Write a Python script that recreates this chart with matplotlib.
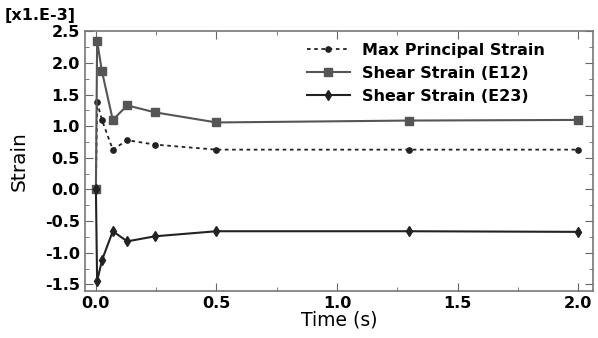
import matplotlib
matplotlib.use("Agg")
import matplotlib.pyplot as plt
from matplotlib.ticker import MultipleLocator, FormatStrFormatter

time = [0.0, 0.005, 0.025, 0.07, 0.13, 0.245, 0.5, 1.3, 2.0]
max_principal = [0.0, 1.38, 1.10, 0.63, 0.78, 0.71, 0.63, 0.63, 0.63]
shear_e12 = [0.0, 2.35, 1.87, 1.10, 1.33, 1.22, 1.06, 1.09, 1.10]
shear_e23 = [0.0, -1.45, -1.12, -0.66, -0.82, -0.74, -0.66, -0.66, -0.67]

fig = plt.figure(figsize=(5.98, 3.38), dpi=100)
ax = fig.add_axes([0.142, 0.14, 0.8496, 0.769])

ax.plot(time, max_principal, color="#222222", ls=(0, (2, 2)), lw=1.3,
        marker="o", ms=3.8, label="Max Principal Strain")
ax.plot(time, shear_e12, color="#555555", ls="-", lw=1.5,
        marker="s", ms=5.2, label="Shear Strain (E12)")
ax.plot(time, shear_e23, color="#222222", ls="-", lw=1.5,
        marker="d", ms=5, label="Shear Strain (E23)")

ax.set_xlim(-0.0456, 2.062)
ax.set_ylim(-1.6, 2.51)
ax.xaxis.set_major_locator(MultipleLocator(0.5))
ax.xaxis.set_minor_locator(MultipleLocator(0.25))
ax.yaxis.set_major_locator(MultipleLocator(0.5))
ax.yaxis.set_minor_locator(MultipleLocator(0.25))
ax.xaxis.set_major_formatter(FormatStrFormatter("%.1f"))
ax.yaxis.set_major_formatter(FormatStrFormatter("%.1f"))
ax.tick_params(which="both", direction="in", top=True, right=True, color="#666666")
ax.tick_params(which="major", length=6, labelsize=11.5)
ax.tick_params(which="minor", length=3)
for lab in ax.get_xticklabels() + ax.get_yticklabels():
    lab.set_fontweight("bold")
for s in ax.spines.values():
    s.set_color("#777777")
    s.set_linewidth(1.2)

ax.set_xlabel("Time (s)", fontsize=13.5, labelpad=0)
ax.set_ylabel("Strain", fontsize=14.5, labelpad=12)
fig.text(0.008, 0.955, "[x1.E-3]", fontsize=11.5, fontweight="bold", ha="left", va="center")

ax.legend(loc="upper left", bbox_to_anchor=(0.408, 1.01), frameon=False,
          prop={"weight": "bold", "size": 11.5}, handlelength=2.7,
          labelspacing=0.5, handletextpad=0.75)

fig.savefig("out.png", dpi=100)
